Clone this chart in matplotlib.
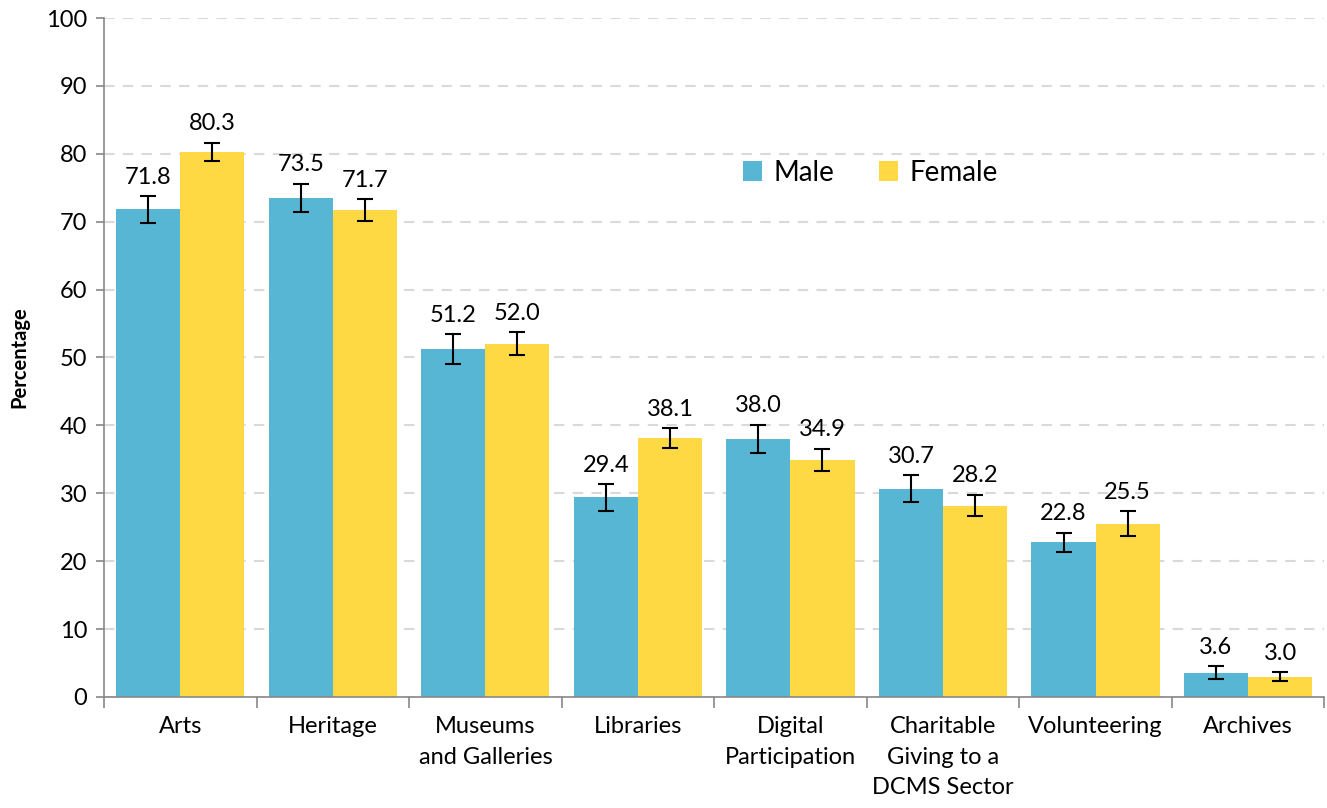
import numpy as np
import matplotlib
matplotlib.use("Agg")
from matplotlib import pyplot as plt

plt.rcParams['font.family'] = ['Lato', 'DejaVu Sans']

categories = ["Arts", "Heritage", "Museums\nand Galleries", "Libraries",
              "Digital\nParticipation", "Charitable\nGiving to a\nDCMS Sector",
              "Volunteering", "Archives"]
male = [71.8, 73.5, 51.2, 29.4, 38.0, 30.7, 22.8, 3.6]
female = [80.3, 71.7, 52.0, 38.1, 34.9, 28.2, 25.5, 3.0]
male_err = [2.0, 2.1, 2.2, 1.95, 2.1, 2.0, 1.4, 0.9]
female_err = [1.35, 1.65, 1.7, 1.5, 1.65, 1.6, 1.85, 0.65]

c_male = "#56B6D3"
c_female = "#FFD944"

fig = plt.figure(figsize=(13.27, 8.08), dpi=100)
ax = fig.add_axes([0.0784, 0.1374, 0.9196, 0.8403])

x = np.arange(len(categories))
w = 0.42
ax.bar(x - w / 2, male, w, color=c_male, label="Male", zorder=2)
ax.bar(x + w / 2, female, w, color=c_female, label="Female", zorder=2)
ax.errorbar(x - w / 2, male, yerr=male_err, fmt="none", ecolor="black",
            elinewidth=1.5, capsize=6, capthick=1.5, zorder=3)
ax.errorbar(x + w / 2, female, yerr=female_err, fmt="none", ecolor="black",
            elinewidth=1.5, capsize=6, capthick=1.5, zorder=3)

# labels above error bars
for xs, vals, errs in [(x - w / 2, male, male_err), (x + w / 2, female, female_err)]:
    for xi, v, e in zip(xs, vals, errs):
        ax.annotate(f"{v:.1f}", (xi, v + e), xytext=(0, 6), textcoords="offset points",
                    ha="center", va="bottom", fontsize=17)

ax.set_xlim(-0.5, len(categories) - 0.5)
ax.set_ylim(0, 100)
ax.set_yticks(np.arange(0, 101, 10))
ax.set_xticks(x)
ax.set_xticklabels(categories, fontsize=17, linespacing=1.55)
ax.set_xticks(np.arange(-0.5, len(categories), 1), minor=True)
ax.tick_params(axis="x", which="major", length=0, pad=14)
ax.tick_params(axis="x", which="minor", length=8, color="#888888", width=1.2)
ax.tick_params(axis="y", length=6, color="#888888", width=1.2, labelsize=17, pad=6)

ax.yaxis.grid(True, linestyle=(0, (5, 4)), color="#d9d9d9", linewidth=1.5, zorder=0)
ax.set_axisbelow(True)
for s in ["top", "right"]:
    ax.spines[s].set_visible(False)
for s in ["left", "bottom"]:
    ax.spines[s].set_color("#888888")
    ax.spines[s].set_linewidth(1.2)

ax.set_ylabel("Percentage", fontsize=14.5, fontweight="bold", labelpad=12)

ax.legend(loc="center", bbox_to_anchor=(0.628, 0.772), ncol=2, frameon=False,
          fontsize=20, handlelength=0.7, handleheight=0.7, handletextpad=0.4,
          columnspacing=1.6)

plt.savefig("out.png", dpi=100)
